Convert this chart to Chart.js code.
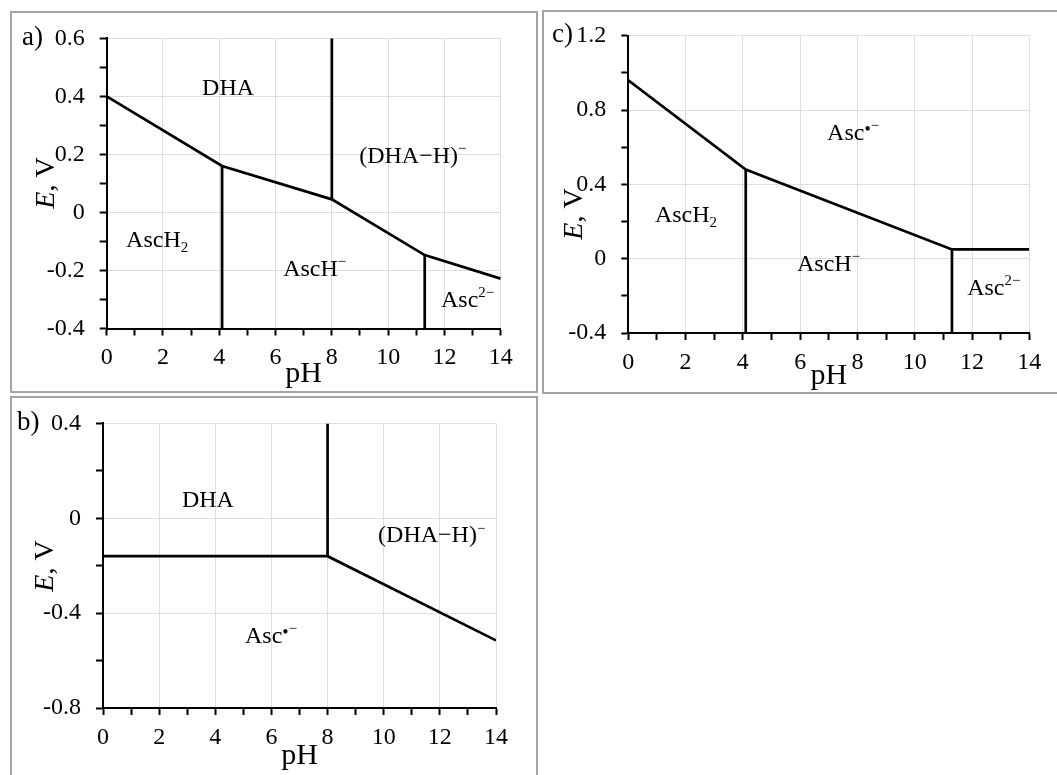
<!DOCTYPE html>
<html>
<head>
<meta charset="utf-8">
<script src="https://cdn.jsdelivr.net/npm/chart.js@4.4.1/dist/chart.umd.min.js"></script>
<style>
  html, body { margin: 0; padding: 0; background: #fff; }
  body { width: 1057px; height: 775px; position: relative; overflow: hidden; }
  .frame { position: absolute; border: 2px solid #a4a4a4; box-sizing: border-box; }
  canvas { position: absolute; }
</style>
</head>
<body>
<div class="frame" style="left:10px;top:11px;width:528px;height:382px"></div>
<div class="frame" style="left:542px;top:10px;width:520px;height:384px"></div>
<div class="frame" style="left:10px;top:396px;width:528px;height:400px"></div>

<canvas id="panelA" width="540" height="392" style="left:0;top:0"></canvas>
<canvas id="panelC" width="517" height="392" style="left:540px;top:0"></canvas>
<canvas id="panelB" width="540" height="381" style="left:0;top:394px"></canvas>

<script>
const SERIF = '"Liberation Serif", "Times New Roman", serif';
const AXIS_BAND = 55;   // height reserved below the plot for pH tick labels

// pH axis labels shared by all three diagrams
const pHTicks = [0, 2, 4, 6, 8, 10, 12, 14];

// a) DHA / AscH2 system: main boundary and vertical pKa boundaries [pH, E from, E to]
const pHA = [0, 4.1, 8, 11.3, 14];
const EA = [0.40, 0.16, 0.045, -0.147, -0.228];
const stepsA = [[4.1, -0.4, 0.16], [8, 0.045, 0.6], [11.3, -0.4, -0.147]];
const ETicksA = [-0.4, -0.2, 0, 0.2, 0.4, 0.6];

// b) DHA / Asc•− couple
const pHB = [0, 8, 14];
const EB = [-0.16, -0.16, -0.515];
const stepsB = [[8, -0.16, 0.4]];
const ETicksB = [-0.8, -0.4, 0, 0.4];

// c) Asc•− / AscH2 couple
const pHC = [0, 4.1, 11.3, 14];
const EC = [0.96, 0.48, 0.05, 0.05];
const stepsC = [[4.1, -0.4, 0.48], [11.3, -0.4, 0.05]];
const ETicksC = [-0.4, 0, 0.4, 0.8, 1.2];

// species names: [pH of left edge, E of baseline, text runs]
const speciesA = [
  [3.39, 0.405, [['DHA']]],
  [8.97, 0.17, [['(DHA\u2212H)'], ['\u2212', 'sup']]],
  [0.69, -0.119, [['AscH'], ['2', 'sub']]],
  [6.27, -0.219, [['AscH'], ['\u2212', 'sup']]],
  [11.88, -0.326, [['Asc'], ['2\u2212', 'sup']]]
];
const speciesB = [
  [2.81, 0.046, [['DHA']]],
  [9.8, -0.101, [['(DHA\u2212H)'], ['\u2212', 'sup']]],
  [5.06, -0.526, [['Asc'], ['\u2022', 'dot'], ['\u2212', 'sup']]]
];
const speciesC = [
  [6.94, 0.639, [['Asc'], ['\u2022', 'dot'], ['\u2212', 'sup']]],
  [0.93, 0.197, [['AscH'], ['2', 'sub']]],
  [5.89, -0.066, [['AscH'], ['\u2212', 'sup']]],
  [11.83, -0.196, [['Asc'], ['2\u2212', 'sup']]]
];

function runFont(kind, size) {
  let s = size;
  if (kind === 'sup' || kind === 'sub') s = size * 0.62;
  if (kind === 'dot') s = size * 0.75;
  return (kind === 'i' ? 'italic ' : '') + s + 'px ' + SERIF;
}
function runShift(kind, size) {
  if (kind === 'sup') return -size * 0.40;
  if (kind === 'sub') return size * 0.20;
  if (kind === 'dot') return -size * 0.22;
  return 0;
}
function richWidth(ctx, runs, size) {
  let w = 0;
  for (const [t, k] of runs) { ctx.font = runFont(k, size); w += ctx.measureText(t).width; }
  return w;
}
function drawRich(ctx, x, y, runs, size) {
  ctx.textAlign = 'left';
  ctx.textBaseline = 'alphabetic';
  let cx = x;
  for (const [t, k] of runs) {
    ctx.font = runFont(k, size);
    ctx.fillText(t, cx, y + runShift(k, size));
    cx += ctx.measureText(t).width;
  }
}

const labelPlugin = {
  id: 'diagramText',
  afterDraw(chart, args, o) {
    const ctx = chart.ctx;
    const xs = chart.scales.x, ys = chart.scales.y, area = chart.chartArea;
    ctx.save();
    ctx.fillStyle = '#000';
    // species fields
    for (const [p, e, runs] of o.species) {
      drawRich(ctx, xs.getPixelForValue(p), ys.getPixelForValue(e), runs, 24);
    }
    // panel letter
    drawRich(ctx, o.letter[1], o.letter[2], [[o.letter[0]]], 27);
    // x title
    const phRuns = [['pH']];
    const pw = richWidth(ctx, phRuns, 30);
    drawRich(ctx, (area.left + area.right) / 2 - pw / 2, area.bottom + o.phDrop, phRuns, 30);
    // y title, rotated
    const eRuns = [['E', 'i'], [', V']];
    const ew = richWidth(ctx, eRuns, 28);
    ctx.translate(o.eTitle[0], o.eTitle[1]);
    ctx.rotate(-Math.PI / 2);
    drawRich(ctx, -ew / 2, 28 * 0.33, eRuns, 28);
    ctx.restore();
  }
};

function pts(px, ey) { return px.map((p, i) => ({ x: p, y: ey[i] })); }

function makeDiagram(id, pH, E, steps, ETicks, species, layout) {
  const line = { showLine: true, borderColor: '#000', borderWidth: 2.7, pointRadius: 0, fill: false, tension: 0 };
  const datasets = [Object.assign({ data: pts(pH, E) }, line)];
  for (const [p, lo, hi] of steps) {
    datasets.push(Object.assign({ data: [{ x: p, y: lo }, { x: p, y: hi }] }, line));
  }
  const near = (v, list) => list.find(t => Math.abs(t - v) < 1e-6);
  const gridCol = '#dedede';
  const cvs = document.getElementById(id);
  return new Chart(cvs, {
    type: 'scatter',
    data: { datasets },
    options: {
      responsive: false,
      animation: false,
      events: [],
      layout: { padding: { left: 0, top: layout.top, right: cvs.width - layout.right, bottom: cvs.height - layout.bottom - AXIS_BAND } },
      plugins: {
        legend: { display: false },
        tooltip: { enabled: false },
        diagramText: { species, letter: layout.letter, eTitle: layout.eTitle, phDrop: layout.phDrop }
      },
      scales: {
        x: {
          type: 'linear', min: 0, max: 14,
          afterFit: s => { s.height = AXIS_BAND; },
          border: { color: '#000', width: 2 },
          grid: {
            color: c => (c.tick && near(c.tick.value, pHTicks) !== undefined) ? gridCol : 'rgba(0,0,0,0)',
            lineWidth: 1, drawTicks: true, tickLength: 7, tickColor: '#000', tickWidth: 2
          },
          ticks: {
            stepSize: 1, autoSkip: false, maxRotation: 0, maxTicksLimit: 100, padding: 8,
            color: '#000', font: { family: SERIF, size: 24 },
            callback: v => { const m = near(v, pHTicks); return m === undefined ? '' : String(m); }
          }
        },
        y: {
          type: 'linear', min: ETicks[0], max: ETicks[ETicks.length - 1],
          afterFit: s => { s.width = layout.left; },
          border: { color: '#000', width: 2 },
          grid: {
            color: c => (c.tick && near(c.tick.value, ETicks) !== undefined) ? gridCol : 'rgba(0,0,0,0)',
            lineWidth: 1, drawTicks: true, tickLength: 7, tickColor: '#000', tickWidth: 2
          },
          ticks: {
            stepSize: (ETicks[1] - ETicks[0]) / 2, autoSkip: false, maxTicksLimit: 100, padding: 15,
            color: '#000', font: { family: SERIF, size: 24 },
            callback: v => { const m = near(v, ETicks); return m === undefined ? '' : String(m); }
          }
        }
      }
    },
    plugins: [labelPlugin]
  });
}

makeDiagram('panelA', pHA, EA, stepsA, ETicksA, speciesA,
  { left: 106.7, right: 500.7, top: 38.3, bottom: 328.5, letter: ['a)', 22, 45], eTitle: [45, 183], phDrop: 53 });
makeDiagram('panelC', pHC, EC, stepsC, ETicksC, speciesC,
  { left: 88.3, right: 489.3, top: 35.7, bottom: 333, letter: ['c)', 12, 42], eTitle: [33, 214], phDrop: 51 });
makeDiagram('panelB', pHB, EB, stepsB, ETicksB, speciesB,
  { left: 103, right: 496, top: 29, bottom: 314, letter: ['b)', 17, 36], eTitle: [44, 172], phDrop: 56 });
</script>
</body>
</html>
